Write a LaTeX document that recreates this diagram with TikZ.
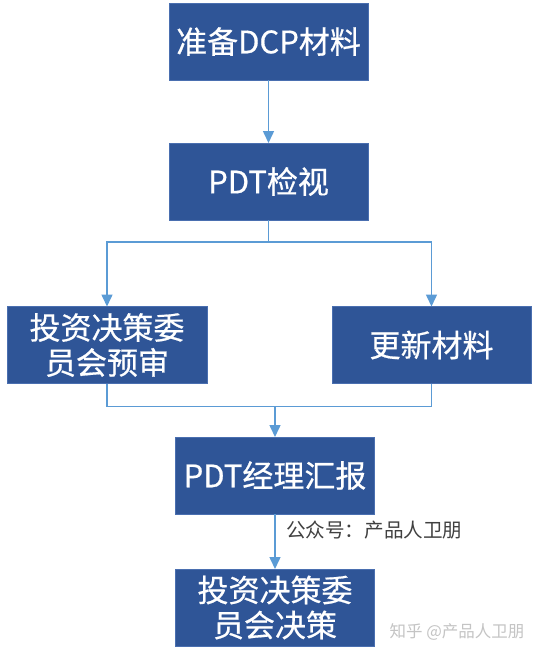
\documentclass[tikz,border=0pt]{standalone}
\usepackage{fontspec}
\usepackage{tikz}
\usetikzlibrary{positioning,arrows.meta,calc}
\newfontfamily\cjk{Noto Sans CJK SC}
\newfontfamily\cjkbox[FakeBold=0.6]{Noto Sans CJK SC}
\definecolor{boxblue}{HTML}{2F5597}
\definecolor{boxedge}{HTML}{4A6FB0}
\definecolor{linkblue}{HTML}{5B9BD5}
\definecolor{notegray}{HTML}{404040}
\definecolor{markgray}{HTML}{C4C4C4}

\tikzset{
  stepbox/.style={draw=boxedge, line width=0.8pt, fill=boxblue, text=white,
    minimum width=199pt, minimum height=77pt, outer sep=0pt, inner sep=2pt,
    align=center, font=\cjkbox\fontsize{31pt}{35pt}\selectfont},
  link/.style={draw=linkblue, line width=1.5pt},
  flow/.style={link, -{Triangle[length=12pt,width=11pt]}}
}

\begin{document}
\begin{tikzpicture}[x=1pt, y=-1pt]
				\useasboundingbox[fill=white] (0,0) rectangle (539,657);

				\node [stepbox] (dcp) at (268.5,41.5) {准备DCP材料};
				\node [stepbox, below=63pt of dcp] (pdt) {PDT检视};
				\draw [flow] (dcp) to (pdt);

				\node [stepbox, minimum width=200pt] (review) at (107,345) {投资决策委\\员会预审};
				\node [stepbox] (update) at (431.5,345) {更新材料};
				\draw [flow] (pdt.south) -- ++(0,22) -| (review.north);
				\draw [flow] (pdt.south) -- ++(0,22) -| (update.north);

				\node [stepbox] (report) at (275,475.5) {PDT经理汇报};
				\draw [link] (review.south) -- ++(0,23) -| (update.south);
				\coordinate (join) at ($(report.north |- review.south)+(0,23)$);
				\draw [flow] (join) to (report);

				\node [stepbox, below=55pt of report] (decide) {投资决策委\\员会决策};
				\draw [flow] (report) to node [pos=0.3, right=7pt, text=notegray,
					font=\cjk\fontsize{19.6pt}{22pt}\selectfont] (note) {公众号：产品人卫朋} (decide);

				\node [text=markgray, font=\cjk\fontsize{16.5pt}{19pt}\selectfont, anchor=east] (mark) at (528,632) {知乎 @产品人卫朋};
			\end{tikzpicture}
\end{document}
